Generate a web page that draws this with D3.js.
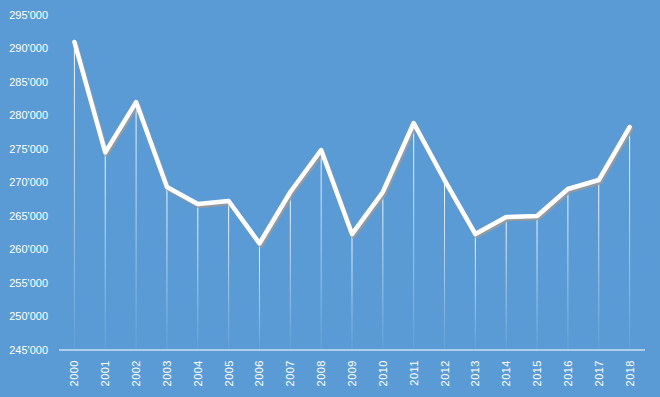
<!DOCTYPE html>
<html>
<head>
<meta charset="utf-8">
<script src="https://cdn.jsdelivr.net/npm/d3@7"></script>
<style>
  html, body { margin: 0; padding: 0; background: #5B9BD5; }
  svg { display: block; }
  .tickText { font-family: "Liberation Sans", Arial, sans-serif; font-size: 11px; fill: #ffffff; }
</style>
</head>
<body>
<div id="chart"></div>
<script>
// data
const years = ["2000","2001","2002","2003","2004","2005","2006","2007","2008","2009",
               "2010","2011","2012","2013","2014","2015","2016","2017","2018"];
const values = [290970, 274500, 282000, 269330, 266790, 267240, 260900, 268580, 274850, 262300,
                268580, 278880, 270370, 262300, 264850, 265000, 269030, 270370, 278280];
const yTicks = [245000, 250000, 255000, 260000, 265000, 270000, 275000, 280000, 285000, 290000, 295000];

const width = 660, height = 397;
const margin = {top: 15, right: 15, bottom: 47, left: 59};

const svg = d3.select("#chart").append("svg")
    .attr("width", width)
    .attr("height", height);

svg.append("rect")
    .attr("width", width)
    .attr("height", height)
    .attr("fill", "#5B9BD5");

const x = d3.scaleBand()
    .domain(years)
    .range([margin.left, width - margin.right]);

const y = d3.scaleLinear()
    .domain([245000, 295000])
    .range([height - margin.bottom, margin.top]);

const data = years.map((d, i) => ({year: d, value: values[i]}));
const cx = d => x(d.year) + x.bandwidth() / 2;

// gradients for the drop lines
const defs = svg.append("defs");
data.forEach((d, i) => {
    let g = defs.append("linearGradient")
        .attr("id", "drop" + i)
        .attr("gradientUnits", "userSpaceOnUse")
        .attr("x1", 0).attr("x2", 0)
        .attr("y1", y(d.value)).attr("y2", y(245000));
    g.append("stop").attr("offset", "0%").attr("stop-color", "#fff").attr("stop-opacity", 0.95);
    g.append("stop").attr("offset", "100%").attr("stop-color", "#fff").attr("stop-opacity", 0.05);
});

// y axis labels (no axis line)
const fmt = v => d3.format(",")(v).replace(/,/g, "'");
svg.append("g")
    .selectAll("text")
    .data(yTicks)
    .enter().append("text")
    .attr("class", "tickText")
    .attr("x", 48)
    .attr("y", d => y(d))
    .attr("dy", "0.35em")
    .attr("text-anchor", "end")
    .text(fmt);

// drop lines
svg.append("g")
    .selectAll("line")
    .data(data)
    .enter().append("line")
    .attr("x1", cx).attr("x2", cx)
    .attr("y1", d => y(d.value))
    .attr("y2", y(245000))
    .attr("stroke", (d, i) => "url(#drop" + i + ")")
    .attr("stroke-width", 1);

// x axis line
svg.append("line")
    .attr("x1", margin.left).attr("x2", width - margin.right)
    .attr("y1", y(245000)).attr("y2", y(245000))
    .attr("stroke", "#ffffff")
    .attr("stroke-width", 1.2);

// x labels rotated
svg.append("g")
    .selectAll("text")
    .data(years)
    .enter().append("text")
    .attr("class", "tickText")
    .attr("transform", d => `translate(${x(d) + x.bandwidth() / 2 + 4}, ${y(245000) + 10}) rotate(-90)`)
    .attr("text-anchor", "end")
    .attr("letter-spacing", "0.5px")
    .text(d => d);

const line = d3.line()
    .x(cx)
    .y(d => y(d.value));

// shadow
svg.append("path")
    .datum(data)
    .attr("d", line)
    .attr("transform", "translate(1.5, 2)")
    .attr("fill", "none")
    .attr("stroke", "#9a9a9a")
    .attr("stroke-opacity", 0.9)
    .attr("stroke-width", 4.5)
    .attr("stroke-linejoin", "round")
    .attr("stroke-linecap", "round");

svg.append("path")
    .datum(data)
    .attr("d", line)
    .attr("fill", "none")
    .attr("stroke", "#ffffff")
    .attr("stroke-width", 4.5)
    .attr("stroke-linejoin", "round")
    .attr("stroke-linecap", "round");
</script>
</body>
</html>
